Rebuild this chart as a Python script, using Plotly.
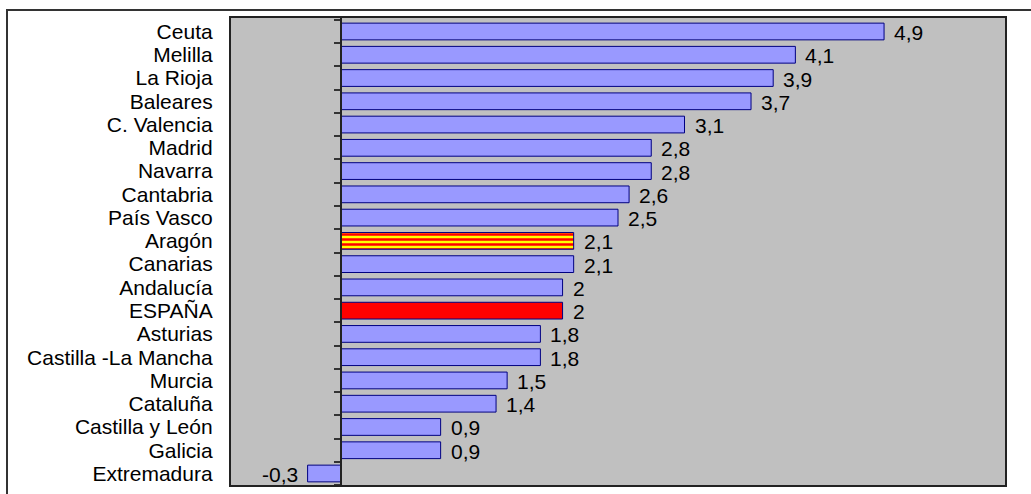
import plotly.graph_objects as go

regions = ["Ceuta", "Melilla", "La Rioja", "Baleares", "C. Valencia", "Madrid", "Navarra",
           "Cantabria", "País Vasco", "Aragón", "Canarias", "Andalucía", "ESPAÑA", "Asturias",
           "Castilla -La Mancha", "Murcia", "Cataluña", "Castilla y León", "Galicia", "Extremadura"]
values = [4.9, 4.1, 3.9, 3.7, 3.1, 2.8, 2.8, 2.6, 2.5, 2.1, 2.1, 2.0, 2.0, 1.8, 1.8, 1.5, 1.4, 0.9, 0.9, -0.3]
value_labels = ["4,9", "4,1", "3,9", "3,7", "3,1", "2,8", "2,8", "2,6", "2,5", "2,1", "2,1", "2", "2",
                "1,8", "1,8", "1,5", "1,4", "0,9", "0,9", "-0,3"]
highlight = "Aragón"
national = "ESPAÑA"

BAR = "#9999FF"
EDGE = "#000080"

W, H = 1031, 494
ML, MR, MT, MB = 230, 25, 17, 8
XR = [-1, 6]
FONT = "Liberation Sans, Arial, sans-serif"
FS = 21

main_y = [r for r in regions if r != highlight]
main_x = [v for r, v in zip(regions, values) if r != highlight]
main_c = ["#FF0000" if r == national else BAR for r in main_y]
hl_y = [r for r in regions if r == highlight]
hl_x = [v for r, v in zip(regions, values) if r == highlight]

fig = go.Figure()
fig.add_trace(go.Bar(
    x=main_x, y=main_y, orientation="h", width=0.72,
    marker=dict(color=main_c, line=dict(color=EDGE, width=1)),
    hoverinfo="skip",
))
fig.add_trace(go.Bar(
    x=hl_x, y=hl_y, orientation="h", width=0.72,
    marker=dict(color="#FFFF00", line=dict(color=EDGE, width=1),
                pattern=dict(shape="-", fgcolor="#FF0000", bgcolor="#FFFF00", fgopacity=1,
                             size=5, solidity=0.5, fillmode="replace")),
    hoverinfo="skip",
))

ann = []
for r, v, t in zip(regions, values, value_labels):
    ann.append(dict(x=v, y=r, text=t, showarrow=False,
                    xanchor="left" if v >= 0 else "right",
                    xshift=8 if v >= 0 else -8, yshift=-1,
                    font=dict(family=FONT, size=FS, color="black")))

pw = W - ML - MR
ph = H - MT - MB
shapes = [
    dict(type="rect", xref="paper", yref="paper", x0=0, x1=1, y0=0, y1=1,
         line=dict(color="#222222", width=2), layer="above"),
    dict(type="rect", xref="paper", yref="paper",
         x0=(7 - ML) / pw, x1=(W + 20 - ML) / pw,
         y0=-(MB + 20) / ph, y1=1 + (MT - 10) / ph,
         line=dict(color="#333333", width=2)),
]

fig.update_layout(
    width=W, height=H, margin=dict(l=ML, r=MR, t=MT, b=MB),
    paper_bgcolor="white", plot_bgcolor="#C0C0C0", barmode="overlay",
    showlegend=False, annotations=ann, shapes=shapes,
    font=dict(family=FONT, size=FS, color="black"),
    xaxis=dict(range=XR, showticklabels=False, ticks="", showgrid=False, zeroline=False,
               showline=False, domain=[0, 1]),
    yaxis=dict(autorange="reversed", anchor="free", position=(0 - XR[0]) / (XR[1] - XR[0]),
               type="category", categoryorder="array", categoryarray=regions,
               tickmode="array", tickvals=regions, ticktext=regions,
               showline=True, linecolor="#222222", linewidth=2,
               ticks="outside", tickson="boundaries", ticklen=6, tickcolor="#333333", tickwidth=1.5,
               showgrid=False, ticklabelstandoff=123,
               tickfont=dict(family=FONT, size=FS, color="black")),
)

fig.write_html("out.html", config={"displayModeBar": False},
               post_script="document.body.style.margin='0px';document.body.style.overflow='hidden';")
